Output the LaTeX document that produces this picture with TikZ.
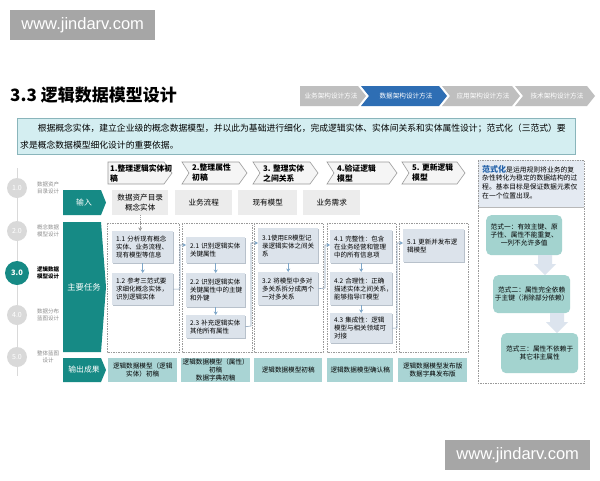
\documentclass[tikz,border=0pt]{standalone}
\usepackage{fontspec}
\setmainfont{Noto Sans CJK SC}
\newfontfamily\wmfont{Liberation Sans}
\usetikzlibrary{arrows.meta,shadows,calc}
\definecolor{tealdk}{HTML}{168A85}
\definecolor{circgray}{HTML}{D9D9D9}
\definecolor{labgray}{HTML}{8C8C8C}
\definecolor{bcgray}{HTML}{BFBFBF}
\definecolor{bcblue}{HTML}{2E6EB4}
\definecolor{descfill}{HTML}{D4EEF1}
\definecolor{descline}{HTML}{8AB5BB}
\definecolor{inpfill}{HTML}{ECECEC}
\definecolor{taskfill}{HTML}{DCE3EB}
\definecolor{taskshadow}{HTML}{B8C1CB}
\definecolor{outfill}{HTML}{A9D4D4}
\definecolor{nffill}{HTML}{A3D3CF}
\definecolor{arrowc}{HTML}{7FA7C9}
\definecolor{connc}{HTML}{8FA5BC}
\definecolor{framec}{HTML}{9A9A9A}
\definecolor{panelfill}{HTML}{E4EAF2}
\definecolor{blockarrow}{HTML}{DCE4EE}
\definecolor{fsblue}{HTML}{1F5FA8}
\definecolor{wmgray}{HTML}{A6A6A6}
\newcommand\mychev[7]{%
  \path[#7] (#1,#3) -- ({#2-#6},#3) -- (#2,{(#3+#4)/2}) -- ({#2-#6},#4) -- (#1,#4) -- ({#1+#5},{(#3+#4)/2}) -- cycle;}
\tikzset{
  wm/.style={fill=wmgray, text=white, font=\wmfont\fontsize{16.5}{18}\selectfont, inner sep=0},
  bctext/.style={text=white, font=\fontsize{6.6}{8}\selectfont, inner sep=0},
  stepframe/.style={fill=white!96!black, draw=framec, line width=0.6pt},
  steptext/.style={anchor=west, align=left, font=\fontsize{7.8}{10}\selectfont\bfseries, inner sep=0},
  tlcirc/.style={circle, fill=circgray, minimum size=20pt, inner sep=0, text=white, font=\fontsize{7}{8}\selectfont},
  tllab/.style={anchor=west, align=center, text=labgray, font=\fontsize{5.5}{7}\selectfont, inner sep=0},
  tealtag/.style={fill=tealdk},
  tagtext/.style={text=white, font=\fontsize{7.8}{9}\selectfont, inner sep=0},
  inbox/.style={fill=inpfill, anchor=north west, inner sep=0, align=center, font=\fontsize{7.6}{10}\selectfont},
  colframe/.style={draw=framec, line width=0.6pt, dash pattern=on 1.5pt off 1pt},
  task/.style={fill=taskfill, anchor=north west, inner xsep=4pt, inner ysep=0, align=left,
     font=\fontsize{6.5}{8}\selectfont, drop shadow={shadow xshift=0.6pt, shadow yshift=-1.2pt, fill=taskshadow, opacity=1}},
  outbox/.style={fill=outfill, anchor=north west, inner sep=0, align=center, font=\fontsize{6.6}{8}\selectfont},
  nf/.style={fill=nffill, rounded corners=5pt, anchor=north west, inner sep=0, align=center, font=\fontsize{6.7}{8}\selectfont},
  varrow/.style={draw=arrowc, line width=0.7pt, -{Stealth[length=3.5pt,width=4pt]}},
  conn/.style={draw=connc, line width=0.6pt, -{Stealth[length=3.5pt,width=4pt,color=arrowc]}},
}
\begin{document}
\begin{tikzpicture}[x=1pt,y=-1pt]
\useasboundingbox (0,0) rectangle (600,480);
\fill[white] (0,0) rectangle (600,480);

% watermarks
\node[wm, minimum width=145pt, minimum height=30pt, anchor=north west] (wm1) at (10,10) {www.jindarv.com};
\node[wm, minimum width=145pt, minimum height=30pt, anchor=north west] (wm2) at (445,440) {www.jindarv.com};

% title
\node[anchor=west, font=\fontsize{17}{20}\selectfont\bfseries, inner sep=0] (title) at (10,95) {3.3 逻辑数据模型设计};

% breadcrumb
\mychev{300}{366}{86}{106}{0}{8}{fill=bcgray}
\mychev{361}{447}{86}{106}{8}{8}{fill=bcblue}
\mychev{442}{520}{86}{106}{8}{8}{fill=bcgray}
\mychev{515}{595}{86}{106}{8}{8}{fill=bcgray}
\node[bctext] (bc1) at (331,96) {业务架构设计方法};
\node[bctext] (bc2) at (406,96) {数据架构设计方法};
\node[bctext] (bc3) at (483,96) {应用架构设计方法};
\node[bctext] (bc4) at (557,96) {技术架构设计方法};

% description
\node[fill=descfill, draw=descline, line width=0.8pt, anchor=north west, minimum width=558pt, minimum height=36pt, inner sep=0] (desc) at (17,118) {};
\node[anchor=north west, text width=556pt, align=left, font=\fontsize{8.8}{17}\selectfont, inner sep=0] (desctext) at (20,124)
 {\hspace*{17.6pt}根据概念实体，建立企业级的概念数据模型，并以此为基础进行细化，完成逻辑实体、实体间关系和实体属性设计；范式化（三范式）要\\求是概念数据模型细化设计的重要依据。};

% timeline
\coordinate (tltop) at (17,168);
\coordinate (tlbot) at (17,376);
\draw[circgray, line width=0.9pt] (tltop) -- (tlbot);
\node[tlcirc] (c1) at (17,188) {1.0};
\node[tlcirc] (c2) at (17,231) {2.0};
\node[tlcirc, fill=tealdk, minimum size=24pt, font=\fontsize{7.5}{8}\selectfont\bfseries] (c3) at (17,273) {3.0};
\node[tlcirc] (c4) at (17,315) {4.0};
\node[tlcirc] (c5) at (17,357) {5.0};
\node[tllab] (l1) at (37,188) {数据资产\\目录设计};
\node[tllab] (l2) at (37,231) {概念数据\\模型设计};
\node[tllab, text=black, font=\fontsize{5.5}{7}\selectfont\bfseries] (l3) at (37,273) {逻辑数据\\模型设计};
\node[tllab] (l4) at (37,315) {数据分布\\蓝图设计};
\node[tllab] (l5) at (37,357) {整体蓝图\\设计};

% teal tags
\mychev{63}{106}{190}{215}{0}{5}{tealtag}
\mychev{63}{106}{222}{352}{0}{5}{tealtag}
\mychev{63}{106}{358}{382}{0}{5}{tealtag}
\node[tagtext] (tin) at (84,202.5) {输入};
\node[tagtext, font=\fontsize{8.3}{9}\selectfont] (tmain) at (84,287) {主要任务};
\node[tagtext] (tout) at (84,370) {输出成果};

% step chevrons
\mychev{108}{172}{162}{184}{0}{8}{stepframe}
\mychev{182}{247}{162}{184}{7}{8}{stepframe}
\mychev{253}{318}{162}{184}{7}{8}{stepframe}
\mychev{327}{397}{162}{184}{7}{8}{stepframe}
\mychev{402}{465}{162}{184}{7}{8}{stepframe}
\node[steptext] (s1) at (110,173) {1.整理逻辑实体初\\稿};
\node[steptext] (s2) at (192,173) {2.整理属性\\初稿};
\node[steptext] (s3) at (263,173) {3. 整理实体\\之间关系};
\node[steptext] (s4) at (337,173) {4.验证逻辑\\模型};
\node[steptext] (s5) at (412,173) {5. 更新逻辑\\模型};

% inputs
\node[inbox, minimum width=56pt, minimum height=25pt] (in1) at (112,190) {数据资产目录\\概念实体};
\node[inbox, minimum width=57pt, minimum height=25pt] (in2) at (175,190) {业务流程};
\node[inbox, minimum width=59pt, minimum height=25pt] (in3) at (238,190) {现有模型};
\node[inbox, minimum width=57pt, minimum height=25pt] (in4) at (303,190) {业务需求};

% column frames
\draw[colframe] (107,223) rectangle (179,352);
\draw[colframe] (182,223) rectangle (252,352);
\draw[colframe] (254,223) rectangle (323,352);
\draw[colframe] (327,223) rectangle (396,352);
\draw[colframe] (399,223) rectangle (468,352);

% tasks
\node[task, minimum width=61pt, minimum height=32pt, text width=53pt] (t11) at (112,231) {1.1~分析现有概念\\实体、业务流程、\\现有模型等信息};
\node[task, minimum width=61pt, minimum height=32pt, text width=53pt] (t12) at (112,273) {1.2~参考三范式要\\求细化概念实体，\\识别逻辑实体};
\node[task, minimum width=59pt, minimum height=26pt, text width=51pt] (t21) at (186,237) {2.1~识别逻辑实体\\关键属性};
\node[task, minimum width=59pt, minimum height=34pt, text width=51pt] (t22) at (186,273) {2.2~识别逻辑实体\\关键属性中的主键\\和外键};
\node[task, minimum width=59pt, minimum height=23pt, text width=51pt] (t23) at (186,315) {2.3~补充逻辑实体\\其他所有属性};
\node[task, minimum width=60pt, minimum height=35pt, text width=52pt] (t31) at (258,228) {3.1使用ER模型记\\录逻辑实体之间关\\系};
\node[task, minimum width=60pt, minimum height=33pt, text width=52pt] (t32) at (258,272) {3.2~将模型中多对\\多关系拆分成两个\\一对多关系};
\node[task, minimum width=62pt, minimum height=33pt, text width=54pt] (t41) at (330,230) {4.1~完整性：包含\\在业务经营和管理\\中的所有信息项};
\node[task, minimum width=62pt, minimum height=33pt, text width=54pt] (t42) at (330,272) {4.2~合理性：正确\\描述实体之间关系，\\能够指导IT模型};
\node[task, minimum width=62pt, minimum height=30pt, text width=54pt] (t43) at (330,313) {4.3~集成性：逻辑\\模型与相关领域可\\对接};
\node[task, minimum width=61pt, minimum height=33pt, text width=53pt] (t51) at (403,229) {5.1~更新并发布逻\\辑模型};

% arrows inside columns
\draw[varrow, densely dotted, draw=framec] (in1.south) -- (in1.south |- t11.north);
\draw[varrow] (t11.south) -- (t12.north);
\draw[varrow] (t21.south) -- (t22.north);
\draw[varrow] (t22.south) -- (t23.north);
\draw[varrow] (t31.south) -- (t32.north);
\draw[varrow] (t41.south) -- (t42.north);
\draw[varrow] (t42.south) -- (t43.north);

% connectors between columns
\coordinate (k1) at (180,289);
\coordinate (k2) at (251,326);
\coordinate (k3) at (325,288);
\coordinate (k4) at (397,328);
\coordinate (e1) at ($(t21.north west)+(0,8)$);
\coordinate (e2) at ($(t31.north west)+(0,15)$);
\coordinate (e3) at ($(t41.north west)+(0,15)$);
\coordinate (e4) at ($(t51.north west)+(0,14)$);
\draw[conn] (t12.east) -- (k1) |- (e1);
\draw[conn] (t23.east) -- (k2) |- (e2);
\draw[conn] (t32.east) -- (k3) |- (e3);
\draw[conn] (t43.east) -- (k4) |- (e4);

% outputs
\node[outbox, minimum width=69pt, minimum height=24pt] (o1) at (108,358) {逻辑数据模型（逻辑\\实体）初稿};
\node[outbox, minimum width=69pt, minimum height=24pt] (o2) at (181,358) {逻辑数据模型（属性）\\初稿\\数据字典初稿};
\node[outbox, minimum width=68pt, minimum height=24pt] (o3) at (254,358) {逻辑数据模型初稿};
\node[outbox, minimum width=66pt, minimum height=24pt] (o4) at (327,358) {逻辑数据模型确认稿};
\node[outbox, minimum width=69pt, minimum height=24pt] (o5) at (398,358) {逻辑数据模型发布版\\数据字典发布版};

% right panel
\fill[panelfill] (478,160) rectangle (584,207);
\draw[colframe] (478,160) rectangle (584,383);
\draw[framec!70, line width=0.5pt] (478,207) -- (584,207);
\node[anchor=north west, text width=100pt, align=left, font=\fontsize{6.8}{8.7}\selectfont, inner sep=0] (fsh) at (482,165)
 {{\fontsize{8}{8.7}\selectfont\bfseries\color{fsblue}范式化}是运用规则将业务的复\\杂性转化为稳定的数据结构的过\\程。基本目标是保证数据元素仅\\在一个位置出现。};
\node[nf, minimum width=76pt, minimum height=40pt] (nf1) at (486,215) {范式一：有效主键、原\\子性、属性不能重复、\\一列不允许多值};
\node[nf, minimum width=77pt, minimum height=38pt] (nf2) at (493,275) {范式二：属性完全依赖\\于主键（消除部分依赖）};
\node[nf, minimum width=77pt, minimum height=40pt] (nf3) at (501,333) {范式三：属性不依赖于\\其它非主属性};
\fill[blockarrow] (538,255) -- (552,255) -- (552,264) -- (556,264) -- (545,275) -- (534,264) -- (538,264) -- cycle;
\fill[blockarrow] (550,313) -- (564,313) -- (564,322) -- (568,322) -- (557,333) -- (546,322) -- (550,322) -- cycle;
\end{tikzpicture}
\end{document}
